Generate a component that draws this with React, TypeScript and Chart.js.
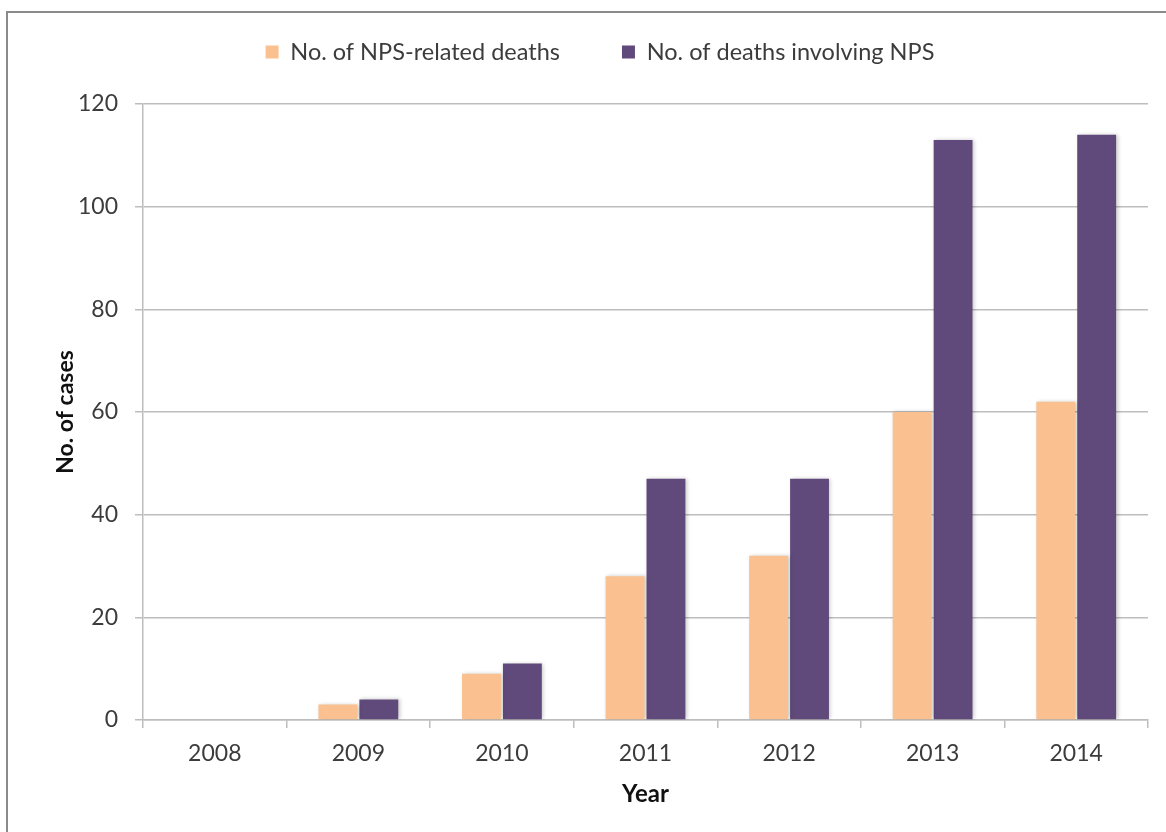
import React, { useEffect, useRef } from "react";
import { Chart, registerables } from "chart.js";

Chart.register(...registerables);

const years = ["2008", "2009", "2010", "2011", "2012", "2013", "2014"];
const relatedDeaths = [0, 3, 9, 28, 32, 60, 62];
const involvingDeaths = [0, 4, 11, 47, 47, 113, 114];
const seriesNames = ["No. of NPS-related deaths", "No. of deaths involving NPS"];
const yTitle = "No. of cases";
const xTitle = "Year";

const FONT = "Lato, 'Noto Sans', sans-serif";
const TEXT = "#3c3c3c";
const GRID = "#bdbdbd";
const PAD_LEFT = 52;
const LEGEND_PAD = 62;
const LEGEND_FS = 23.5;

export default function App() {
  const ref = useRef<HTMLCanvasElement | null>(null);
  useEffect(() => {
    if (!ref.current) return;
    const chart = new Chart(ref.current, {
      type: "bar",
      data: {
        labels: years,
        datasets: [
          { label: seriesNames[0], data: relatedDeaths, backgroundColor: "#FAC090", borderWidth: 0, categoryPercentage: 0.57, barPercentage: 0.95 },
          { label: seriesNames[1], data: involvingDeaths, backgroundColor: "#604A7B", borderWidth: 0, categoryPercentage: 0.57, barPercentage: 0.95 },
        ],
      },
      options: {
        animation: false,
        responsive: false,
        layout: { padding: { left: PAD_LEFT, right: 18, top: 0, bottom: 0 } },
        plugins: {
          tooltip: { enabled: false },
          legend: {
            position: "top",
            labels: {
              boxWidth: 13,
              boxHeight: 13,
              padding: LEGEND_PAD,
              color: TEXT,
              font: { family: FONT, size: LEGEND_FS },
            },
          },
        },
        scales: {
          x: {
            grid: { display: true, drawOnChartArea: false, drawTicks: true, tickLength: 8, color: GRID, lineWidth: 1.5, offset: true },
            border: { display: true, color: GRID, width: 1.5 },
            ticks: { color: TEXT, font: { family: FONT, size: 23 }, padding: 12 },
            title: { display: true, text: xTitle, color: "#111", font: { family: FONT, size: 24, weight: "bold" }, padding: { top: 0, bottom: 23 } },
            afterFit: (s: any) => { s.height = 112; },
          },
          y: {
            min: 0,
            max: 120,
            ticks: { stepSize: 20, color: TEXT, font: { family: FONT, size: 23 }, padding: 17 },
            grid: { color: GRID, lineWidth: 1.5, drawTicks: true, tickLength: 8 },
            border: { display: true, color: GRID, width: 1.5 },
            title: { display: true, text: yTitle, color: "#111", font: { family: FONT, size: 23, weight: "bold" }, padding: { top: 0, bottom: 0 } },
            afterFit: (s: any) => { s.width = 143 - PAD_LEFT; },
          },
        },
      },
      plugins: [
        {
          id: "legendBox",
          beforeInit(c: any) {
            const lg = c.legend;
            if (lg) {
              const orig = lg.fit.bind(lg);
              lg.fit = function () { orig(); this.height = 104; };
            }
          },
          afterLayout(c: any) {
            const lg = c.legend;
            if (lg) lg.top = 52 - LEGEND_PAD - LEGEND_FS / 2;
          },
        },
        {
          id: "barShadow",
          beforeDatasetsDraw(c: any) {
            const ctx = c.ctx;
            ctx.save();
            ctx.shadowColor = "rgba(0,0,0,0.22)";
            ctx.shadowBlur = 4;
            ctx.shadowOffsetX = 1.5;
            ctx.shadowOffsetY = 0;
          },
          afterDatasetsDraw(c: any) {
            c.ctx.restore();
          },
        },
      ],
    } as any);
    return () => chart.destroy();
  }, []);

  return (
    <div style={{ position: "fixed", left: 0, top: 0, width: 1166, height: 832, overflow: "hidden", background: "#fff" }}>
      <div style={{ position: "absolute", left: 6, top: 11, width: 1200, height: 900, border: "2px solid #8a8a8a" }} />
      <canvas ref={ref} width={1166} height={832} style={{ position: "absolute", left: 0, top: 0, width: 1166, height: 832 }} />
    </div>
  );
}
